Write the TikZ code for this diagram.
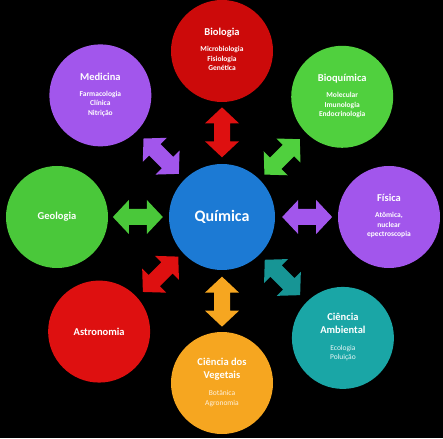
\documentclass[tikz,border=0pt]{standalone}
\usepackage{fontspec}
\setmainfont{Carlito}
\usetikzlibrary{calc}

\definecolor{chemBlue}{RGB}{28,122,212}
\definecolor{bioRed}{RGB}{204,10,10}
\definecolor{astroRed}{RGB}{222,16,16}
\definecolor{leafGreen}{RGB}{80,208,62}
\definecolor{geoGreen}{RGB}{74,200,58}
\definecolor{violet}{RGB}{162,86,236}
\definecolor{envTeal}{RGB}{26,166,166}
\definecolor{plantOrange}{RGB}{246,166,32}

\newcommand{\subitems}[1]{{\fontsize{7.5}{9.5}\selectfont\bfseries\begin{tabular}[t]{@{}c@{}}#1\end{tabular}}}
\newcommand{\thinitems}[2]{{\fontsize{7.5}{9.5}\selectfont\mdseries\color{#1}\begin{tabular}[t]{@{}c@{}}#2\end{tabular}}}

\begin{document}
\begin{tikzpicture}[x=1pt, y=1pt,
    field/.style={circle, fill=#1, minimum size=102pt, inner sep=0pt, text=white, align=center,
        font=\bfseries\fontsize{10.5}{13}\selectfont},
    core/.style={circle, fill=chemBlue, minimum size=106pt, inner sep=0pt, text=white,
        font=\bfseries\fontsize{16}{18}\selectfont},
    dblarrow/.pic={\fill (-25,0) -- (-9,17) -- (-9,8) -- (9,8) -- (9,17) -- (25,0) -- (9,-17)
        -- (9,-8) -- (-9,-8) -- (-9,-17) -- cycle;}
]
    % Background
    \fill[black] (-222,-221) rectangle (221,217);
    \useasboundingbox (-222,-221) rectangle (221,217);

    % Fields
    \node[core] (chem) at (0,0) {Química};
    \node[field=bioRed] (bio) at (90:166) {Biologia\\[3pt]\subitems{Microbiologia\\Fisiologia\\Genética}};
    \node[field=leafGreen] (biochem) at (45:170) {Bioquímica\\[3pt]\subitems{Molecular\\Imunologia\\Endocrinologia}};
    \node[field=violet] (phys) at (0:167) {Física\\[3pt]\subitems{Atômica,\\nuclear\\epectroscopia}};
    \node[field=envTeal] (env) at (-45:171) {Ciência\\Ambiental\\[4pt]\thinitems{white!90!envTeal}{Ecologia\\Poluição}};
    \node[field=plantOrange] (plant) at (-90:166) {Ciência dos\\Vegetais\\[4pt]\thinitems{white!85!plantOrange}{Botânica\\Agronomia}};
    \node[field=astroRed] (astro) at (-137:168) {Astronomia};
    \node[field=geoGreen] (geo) at (180:165) {Geologia};
    \node[field=violet] (med) at (135:172) {Medicina\\[3pt]\subitems{Farmacologia\\Clínica\\Nitrição}};

    % Double arrows
    \pic[fill=astroRed, rotate=90] at ($(chem)!0.51!(bio)$) {dblarrow};
    \pic[fill=leafGreen, rotate=45] at ($(chem)!0.5!(biochem)$) {dblarrow};
    \pic[fill=violet, rotate=0] at ($(chem)!0.51!(phys)$) {dblarrow};
    \pic[fill=envTeal!90!black, rotate=-45] at ($(chem)!0.5!(env)$) {dblarrow};
    \pic[fill=plantOrange, rotate=90] at ($(chem)!0.51!(plant)$) {dblarrow};
    \pic[fill=astroRed, rotate=45] at ($(chem)!0.5!(astro)$) {dblarrow};
    \pic[fill=geoGreen, rotate=0] at ($(chem)!0.51!(geo)$) {dblarrow};
    \pic[fill=violet, rotate=-45] at ($(chem)!0.5!(med)$) {dblarrow};
\end{tikzpicture}
\end{document}
